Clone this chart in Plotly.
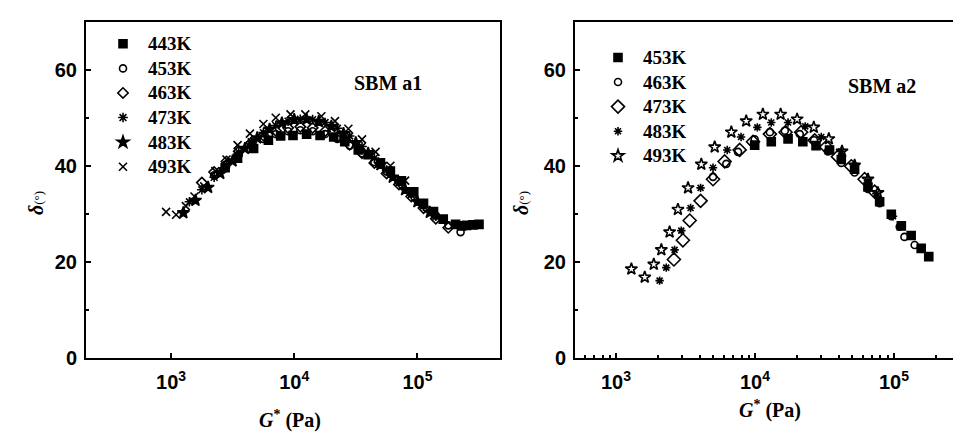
import plotly.graph_objects as go

# ---------------- data: panel SBMa1 ----------------
a1_443K_G = [2750, 3470, 4680, 6170, 7760, 9770, 12600, 16200, 20900, 25700, 33100, 39800, 50100,
             60300, 74100, 93300, 112000, 135000, 162000, 204000, 228000, 251000, 282000, 316000]
a1_443K_d = [39.6, 41.6, 43.6, 45.3, 46.2, 46.3, 46.6, 46.3, 46.0, 45.0, 43.3, 42.3, 40.6,
             38.9, 36.9, 34.6, 32.2, 30.5, 28.9, 27.8, 27.5, 27.6, 27.7, 27.8]

a1_453K_G = [2240, 2820, 3550, 4470, 5620, 7080, 8910, 11200, 14100, 17800, 22400, 28200, 35500,
             44700, 56200, 70800, 89100, 112000, 141000, 178000, 224000]
a1_453K_d = [38.0, 40.2, 42.3, 44.2, 45.6, 46.6, 47.2, 47.4, 47.2, 46.6, 45.6, 44.2, 42.6,
             40.8, 38.8, 36.6, 34.2, 31.8, 29.6, 27.6, 26.2]

a1_463K_G = [1780, 2240, 2820, 3550, 4470, 5620, 7080, 8910, 11200, 14100, 17800, 22400, 28200,
             35500, 44700, 56200, 70800, 89100, 112000, 141000, 178000]
a1_463K_d = [36.5, 38.7, 40.9, 43.0, 44.8, 46.3, 47.3, 47.9, 48.1, 47.9, 47.2, 46.0, 44.4,
             42.6, 40.6, 38.4, 36.1, 33.6, 31.2, 29.0, 27.1]

a1_473K_G = [1410, 1780, 2240, 2820, 3550, 4470, 5620, 7080, 8910, 11200, 14100, 17800, 22400,
             28200, 35500, 44700, 56200, 70800, 89100, 112000, 141000]
a1_473K_d = [32.5, 35.0, 37.6, 40.2, 42.8, 45.0, 46.9, 48.4, 49.3, 49.7, 49.6, 49.0, 47.8,
             46.2, 44.0, 41.6, 39.1, 36.5, 34.0, 31.6, 29.5]

a1_483K_G = [1260, 1580, 2000, 2510, 3160, 3980, 5010, 6310, 7940, 10000, 12600, 15800, 20000,
             25100, 31600, 39800, 50100, 63100, 79400, 100000, 126000]
a1_483K_d = [30.2, 32.8, 35.5, 38.4, 41.0, 43.6, 45.8, 47.6, 48.9, 49.6, 49.7, 49.2, 48.2,
             46.7, 44.8, 42.6, 40.2, 37.6, 35.0, 32.5, 30.3]

a1_493K_G = [912, 1100, 1320, 1550, 1860, 2290, 2820, 3470, 4370, 5620, 7080, 9330, 12300,
             16600, 21400, 27500, 35500, 45700, 60300, 79400]
a1_493K_d = [30.4, 29.8, 31.6, 33.6, 35.7, 38.9, 41.3, 44.3, 46.7, 48.7, 50.0, 50.7, 50.7,
             50.3, 49.3, 47.7, 45.5, 42.9, 40.0, 36.9]

# ---------------- data: panel SBMa2 ----------------
a2_453K_G = [9950, 13100, 17300, 22100, 27500, 34400, 41800, 52100, 65000, 78900, 95700, 113000,
             133000, 157000, 178000]
a2_453K_d = [44.3, 45.0, 45.6, 45.0, 44.2, 43.3, 41.3, 39.3, 35.6, 32.5, 29.9, 27.5,
             25.5, 22.8, 21.1]

a2_463K_G = [4990, 6220, 7550, 9950, 12800, 16400, 21000, 26600, 33500, 41800, 52100, 65000,
             78900, 95700, 110000, 119000, 141000]
a2_463K_d = [37.7, 40.4, 42.9, 45.5, 47.0, 47.3, 46.6, 45.3, 43.0, 40.6, 38.6, 35.2,
             32.2, 29.5, 27.3, 25.2, 23.5]

a2_473K_G = [2610, 3030, 3390, 4060, 4990, 6050, 7760, 9680, 12800, 16600, 21500, 26900,
             32600, 39500, 49300, 61500, 72600]
a2_473K_d = [20.5, 24.5, 28.6, 32.7, 37.2, 40.9, 43.3, 45.0, 46.6, 47.0, 47.0, 45.3,
             43.9, 41.9, 39.9, 37.2, 34.6]

a2_483K_G = [2060, 2300, 2640, 2950, 3440, 4060, 4990, 6310, 7940, 10400, 13100, 17300,
             23000, 30000, 41800, 52100, 65000, 74600, 98400]
a2_483K_d = [16.1, 18.8, 22.5, 26.5, 31.2, 35.4, 39.6, 43.3, 46.0, 48.0, 49.0, 49.0,
             48.2, 46.0, 43.0, 40.0, 36.9, 34.2, 29.5]

a2_493K_G = [1290, 1610, 1870, 2120, 2430, 2790, 3300, 4110, 5130, 6760, 8650, 11400,
             15300, 20100, 26500, 34000, 42300, 52100, 65000, 76700]
a2_493K_d = [18.5, 16.8, 19.5, 22.5, 26.2, 30.9, 35.4, 40.3, 43.9, 47.0, 49.3, 50.7,
             50.7, 49.7, 48.0, 45.6, 43.0, 40.1, 37.2, 34.4]

x_tickvals = [1e3, 1e4, 1e5]
x_ticktext = ["10<sup>3</sup>", "10<sup>4</sup>", "10<sup>5</sup>"]
x_minor_vals = [m * 10 ** e for e in (2, 3, 4, 5) for m in range(2, 10)]
y_tickvals = [0, 20, 40, 60]
y_minor_vals = [10, 30, 50]

SERIF = "Liberation Serif"
SANS = "Liberation Sans"
BLACK = "#000000"

fig = go.Figure()

def add(G, d, name, symbol, size, xa, ya, legend):
    fig.add_trace(go.Scatter(
        x=G, y=d, mode="markers", xaxis=xa, yaxis=ya, legend=legend,
        name="<span style='font-size:19px'>%s</span>" % name,
        marker=dict(symbol=symbol, size=size, color=BLACK,
                    line=dict(color=BLACK, width=1.6)),
        cliponaxis=False))

add(a1_443K_G, a1_443K_d, "443K", "square", 8, "x", "y", "legend")
add(a1_453K_G, a1_453K_d, "453K", "circle-open", 7, "x", "y", "legend")
add(a1_463K_G, a1_463K_d, "463K", "diamond-open", 8, "x", "y", "legend")
add(a1_473K_G, a1_473K_d, "473K", "asterisk-open", 8, "x", "y", "legend")
add(a1_483K_G, a1_483K_d, "483K", "star", 9, "x", "y", "legend")
add(a1_493K_G, a1_493K_d, "493K", "x-thin-open", 8, "x", "y", "legend")

add(a2_453K_G, a2_453K_d, "453K", "square", 8, "x2", "y2", "legend2")
add(a2_463K_G, a2_463K_d, "463K", "circle-open", 7, "x2", "y2", "legend2")
add(a2_473K_G, a2_473K_d, "473K", "diamond-open", 10, "x2", "y2", "legend2")
add(a2_483K_G, a2_483K_d, "483K", "asterisk-open", 7, "x2", "y2", "legend2")
add(a2_493K_G, a2_493K_d, "493K", "star-open", 9, "x2", "y2", "legend2")

W, H = 961, 437
ydom = [(H - 359) / H, (H - 14) / H]

xcommon = dict(type="log", tickvals=x_tickvals, ticktext=x_ticktext,
               ticks="inside", ticklen=5, tickwidth=1.5, tickcolor=BLACK,
               showline=True, linecolor=BLACK, linewidth=2, showgrid=False, zeroline=False,
               tickfont=dict(family=SANS, size=20, color=BLACK, weight="bold"),
               ticklabelstandoff=5)
ycommon = dict(range=[0, 70], tickvals=y_tickvals, ticks="inside", ticklen=5, tickwidth=1.5,
               tickcolor=BLACK, showline=True, linecolor=BLACK, linewidth=2,
               showgrid=False, zeroline=False, ticklabelstandoff=3,
               tickfont=dict(family=SANS, size=20, color=BLACK, weight="bold"),
               minor=dict(tickvals=y_minor_vals, ticks="inside", ticklen=3, tickcolor=BLACK,
                          showgrid=False))

legend_common = dict(xanchor="left", yanchor="top", bgcolor="rgba(0,0,0,0)", itemwidth=40,
                     tracegroupgap=0,
                     font=dict(family=SERIF, size=16.6, color=BLACK, weight="bold"))

fig.update_layout(
    width=W, height=H, margin=dict(l=0, r=0, t=0, b=0),
    paper_bgcolor="white", plot_bgcolor="white",
    xaxis=dict(domain=[78 / W, 492 / W], range=[2.31, 5.67], anchor="y", mirror=True, **xcommon),
    yaxis=dict(domain=ydom, anchor="x", mirror=True, **ycommon),
    xaxis2=dict(domain=[567 / W, 1.0], range=[2.705, 5.54], anchor="y2", mirror=True,
                minor=dict(tickvals=x_minor_vals, ticks="inside", ticklen=3, tickcolor=BLACK,
                           showgrid=False),
                **xcommon),
    yaxis2=dict(domain=ydom, anchor="x2", mirror=False, **ycommon),
    legend=dict(x=90 / W, y=(H - 19) / H, **legend_common),
    legend2=dict(x=585 / W, y=(H - 33) / H, **legend_common),
    showlegend=True,
)

ann_font_title = dict(family=SERIF, size=20, color=BLACK)
common_ann = dict(xref="paper", yref="paper", showarrow=False, xanchor="center", yanchor="middle")
annotations = [
    dict(text="<b>SBM a1</b>", x=380 / W, y=(H - 77) / H,
         font=dict(family=SERIF, size=20, color=BLACK), **common_ann),
    dict(text="<b>SBM a2</b>", x=874 / W, y=(H - 80) / H,
         font=dict(family=SERIF, size=20, color=BLACK), **common_ann),
    dict(text="<b><i>G</i><sup>*</sup> (Pa)</b>", x=282 / W, y=(H - 422) / H,
         font=ann_font_title, **common_ann),
    dict(text="<b><i>G</i><sup>*</sup> (Pa)</b>", x=762 / W, y=(H - 412) / H,
         font=ann_font_title, **common_ann),
    dict(text="<b><i>δ</i></b><span style='font-size:13px'>(°)</span>", x=28 / W,
         y=(H - 200) / H, textangle=-90, font=ann_font_title, **common_ann),
    dict(text="<b><i>δ</i></b><span style='font-size:13px'>(°)</span>", x=513 / W,
         y=(H - 200) / H, textangle=-90, font=ann_font_title, **common_ann),
]
fig.update_layout(annotations=annotations)

fig.write_html("out.html")
